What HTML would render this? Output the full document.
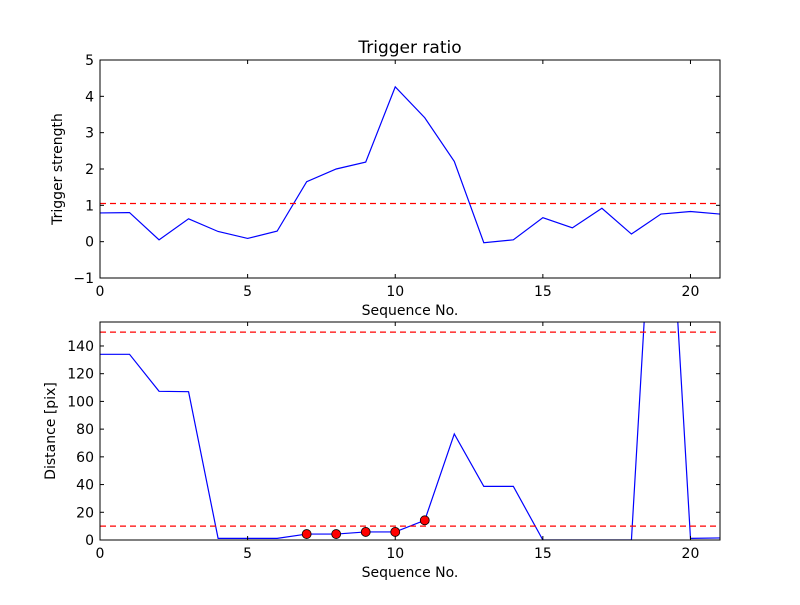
<!DOCTYPE html>
<html><head><meta charset="utf-8"><style>
body{margin:0;background:#fff}
svg text{font-family:"DejaVu Sans","Liberation Sans",sans-serif;fill:#000}
</style></head><body>
<svg id="c" width="800" height="600" xmlns="http://www.w3.org/2000/svg"></svg>
<script>
const seq = [0,1,2,3,4,5,6,7,8,9,10,11,12,13,14,15,16,17,18,19,20,21];
const strength = [0.79,0.8,0.05,0.63,0.28,0.09,0.29,1.65,2.0,2.19,4.26,3.41,2.21,-0.03,0.05,0.66,0.38,0.92,0.21,0.76,0.83,0.76];
const strengthThreshold = 1.05;
const distance = [134,134,107.3,107,1.2,1.2,1.2,4.3,4.3,5.8,5.8,14.2,76.5,38.7,38.7,0,0,0,0,365,1.2,1.5];
const distThresholds = [150,10];
const markedIdx = [7,8,9,10,11];
const xTicks = [0,5,10,15,20];
const yTicksTop = [-1,0,1,2,3,4,5];
const yTicksBot = [0,20,40,60,80,100,120,140];

const NS='http://www.w3.org/2000/svg';
const svg=document.getElementById('c');
function mk(tag,attrs,parent){const e=document.createElementNS(NS,tag);for(const k in attrs)e.setAttribute(k,attrs[k]);(parent||svg).appendChild(e);return e;}
function txt(s,attrs,parent){const e=mk('text',attrs,parent);e.textContent=s;return e;}

function panel(cfg){
  const {L,R,T,B,xmin,xmax,ymin,ymax,name}=cfg;
  const g=mk('g',{});
  
  
  const sx=v=>L+(v-xmin)/(xmax-xmin)*(R-L);
  const sy=v=>B-(v-ymin)/(ymax-ymin)*(B-T);
  const cid='clip-'+name;
  const cp=mk('clipPath',{id:cid},g);mk('rect',{x:L,y:T,width:R-L,height:B-T},cp);
  const plot=mk('g',{'clip-path':'url(#'+cid+')'},g);
  return {g,sx,sy,plot,cfg};
}
function axes(p,yTicks,ylabel,xlabel){
  const {L,R,T,B}=p.cfg;const g=p.g;
  const ax=mk('g',{},g);
  
  
  xTicks.forEach(t=>{const x=p.sx(t);
    mk('line',{x1:x,x2:x,y1:B,y2:B-4,stroke:'#000'},ax);
    mk('line',{x1:x,x2:x,y1:T,y2:T+4,stroke:'#000'},ax);
    const tl=txt(String(t),{x:x,y:B+18,'font-size':14,'text-anchor':'middle'},ax);
    
    
  });
  const ay=mk('g',{},g);
  
  
  yTicks.forEach(t=>{const y=p.sy(t);
    mk('line',{x1:L,x2:L+4,y1:y,y2:y,stroke:'#000'},ay);
    mk('line',{x1:R,x2:R-4,y1:y,y2:y,stroke:'#000'},ay);
    const tl=txt(t<0?'\u2212'+(-t):String(t),{x:L-6,y:y+5,'font-size':14,'text-anchor':'end'},ay);
    
    
  });
  const xl=txt(xlabel,{x:(L+R)/2,y:B+37,'font-size':14,'text-anchor':'middle'},g);
  
  
  const yl=txt(ylabel,{x:0,y:0,'font-size':14,'text-anchor':'middle',transform:'translate('+p.cfg.ylx+','+((T+B)/2)+') rotate(-90)'},g);
  
  
  const fr=mk('rect',{x:L,y:T,width:R-L,height:B-T,fill:'none',stroke:'#000','stroke-width':1},g);
  
  
}
function line(p,xs,ys,name){
  const d=xs.map((x,i)=>(i?'L':'M')+p.sx(x).toFixed(2)+','+p.sy(ys[i]).toFixed(2)).join(' ');
  const e=mk('path',{d:d,fill:'none',stroke:'#0000ff','stroke-width':1.2},p.plot);
  
  
}
function hdash(p,v,name){
  const e=mk('line',{x1:p.cfg.L,x2:p.cfg.R,y1:p.sy(v),y2:p.sy(v),stroke:'#ff0000','stroke-width':1.2,'stroke-dasharray':'6,4'},p.plot);
  
  
}

const topP=panel({L:100,R:720,T:60,B:278,xmin:0,xmax:21,ymin:-1,ymax:5,name:'trigger-panel',ylx:62});
const tt=txt('Trigger ratio',{x:410,y:53,'font-size':17,'text-anchor':'middle'},topP.g);


line(topP,seq,strength,'trigger-strength-line');
hdash(topP,strengthThreshold,'trigger-threshold-line');
axes(topP,yTicksTop,'Trigger strength','Sequence No.');

const botP=panel({L:100,R:720,T:322,B:540,xmin:0,xmax:21,ymin:0,ymax:157.3,name:'distance-panel',ylx:55});
line(botP,seq,distance,'distance-line');
distThresholds.forEach((v,i)=>hdash(botP,v,'distance-threshold-'+i));
markedIdx.forEach(i=>{
  const c=mk('circle',{cx:botP.sx(seq[i]),cy:botP.sy(distance[i]),r:4.5,fill:'#ff0000',stroke:'#000','stroke-width':0.8},botP.g);
  
  
});
axes(botP,yTicksBot,'Distance [pix]','Sequence No.');
</script>
</body></html>
